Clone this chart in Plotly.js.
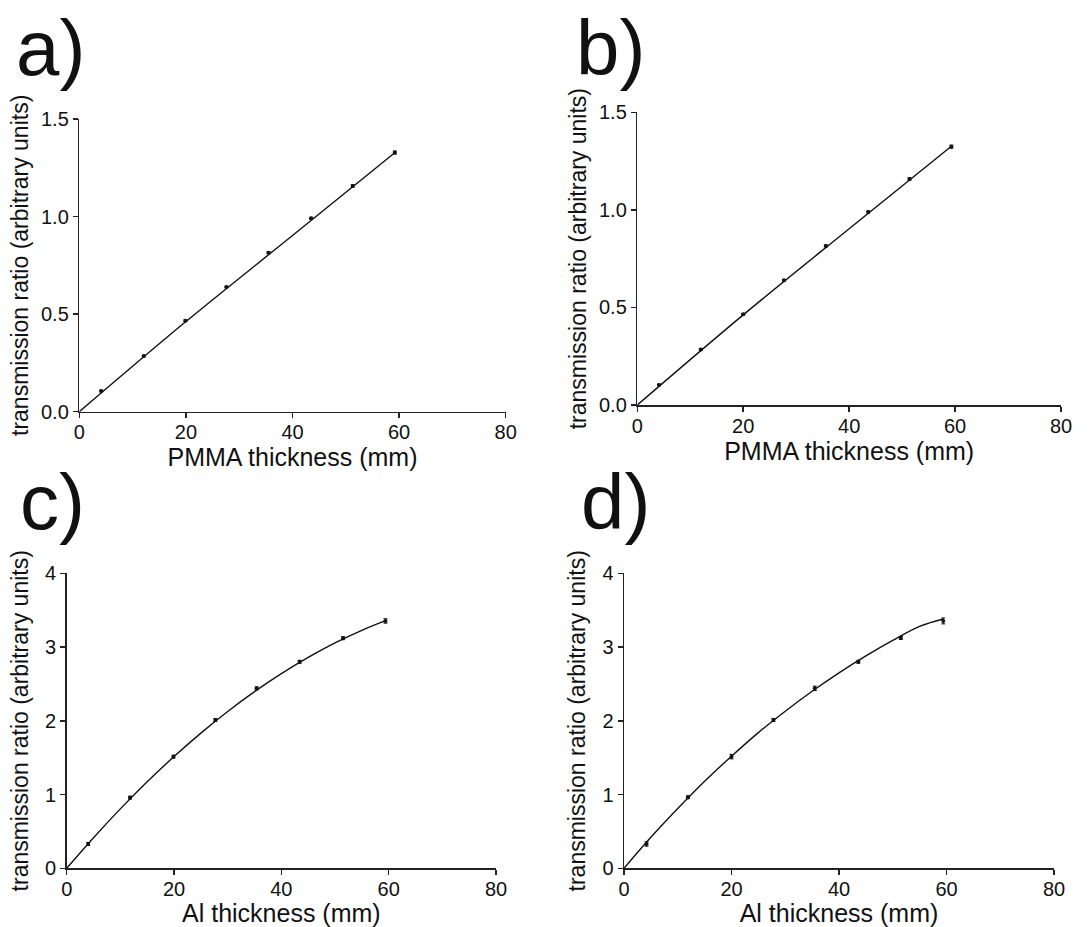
<!DOCTYPE html>
<html>
<head>
<meta charset="utf-8">
<script src="https://cdn.plot.ly/plotly-3.0.1.min.js"></script>
<style>
html,body{margin:0;padding:0;background:#fff;}
#chart{width:1091px;height:927px;}
</style>
</head>
<body>
<div id="chart"></div>
<script>
// ---- data ----
var panelLabels = ["a)", "b)", "c)", "d)"];
var xTitlePMMA = "PMMA thickness (mm)";
var xTitleAl = "Al thickness (mm)";
var yTitle = "transmission ratio (arbitrary units)";

var thickA = [4.1, 12.1, 19.9, 27.6, 35.5, 43.5, 51.3, 59.2];
var ratioA = [0.106, 0.285, 0.466, 0.639, 0.815, 0.991, 1.157, 1.328];
var errA   = [0.004, 0.004, 0.004, 0.004, 0.005, 0.005, 0.006, 0.008];
var fitXA  = [0, 20, 40, 59.3];
var fitYA  = [0, 0.462, 0.903, 1.33];

var thickB = [4.1, 12.0, 20.0, 27.7, 35.6, 43.6, 51.4, 59.3];
var ratioB = [0.103, 0.285, 0.465, 0.639, 0.815, 0.989, 1.158, 1.324];
var errB   = [0.004, 0.004, 0.004, 0.004, 0.005, 0.005, 0.006, 0.008];
var fitXB  = [0, 20, 40, 59.3];
var fitYB  = [0, 0.462, 0.903, 1.326];

var thickC = [4.0, 11.8, 19.9, 27.7, 35.4, 43.4, 51.5, 59.4];
var ratioC = [0.33, 0.958, 1.514, 2.011, 2.44, 2.80, 3.12, 3.354];
var errC   = [0.02, 0.02, 0.02, 0.02, 0.02, 0.02, 0.02, 0.03];
var fitXC  = [0, 5, 10, 15, 20, 25, 30, 35, 40, 45, 50, 55, 59.4];
var fitYC  = [0, 0.415, 0.806, 1.173, 1.515, 1.833, 2.126, 2.395, 2.639, 2.859, 3.055, 3.226, 3.357];

var thickD = [4.2, 11.9, 20.0, 27.8, 35.5, 43.6, 51.5, 59.4];
var ratioD = [0.33, 0.963, 1.514, 2.011, 2.44, 2.80, 3.123, 3.354];
var errD   = [0.03, 0.02, 0.03, 0.02, 0.03, 0.02, 0.02, 0.04];
var fitXD  = [0, 5, 10, 15, 20, 25, 30, 35, 40, 45, 50, 55, 59.4];
var fitYD  = [0, 0.42, 0.81, 1.18, 1.52, 1.84, 2.13, 2.40, 2.65, 2.88, 3.09, 3.28, 3.38];

var xTicks = [0, 20, 40, 60, 80];
var yTicksAB = [0, 0.5, 1.0, 1.5];
var yTicksCD = [0, 1, 2, 3, 4];

// ---- build ----
var FONT = "Arial, 'Liberation Sans', sans-serif";
function pts(x, y, e, xa, ya) {
  return {x: x, y: y, xaxis: xa, yaxis: ya, type: 'scatter', mode: 'markers',
    marker: {color: '#111', size: 4},
    error_y: {type: 'data', array: e, visible: true, color: '#111', thickness: 1, width: 2},
    cliponaxis: false, showlegend: false, hoverinfo: 'x+y'};
}
function fit(x, y, xa, ya) {
  return {x: x, y: y, xaxis: xa, yaxis: ya, type: 'scatter', mode: 'lines',
    line: {color: '#111', width: 1.4, shape: 'spline'}, cliponaxis: false,
    showlegend: false, hoverinfo: 'skip'};
}
var data = [
  fit(fitXA, fitYA, 'x', 'y'), pts(thickA, ratioA, errA, 'x', 'y'),
  fit(fitXB, fitYB, 'x2', 'y2'), pts(thickB, ratioB, errB, 'x2', 'y2'),
  fit(fitXC, fitYC, 'x3', 'y3'), pts(thickC, ratioC, errC, 'x3', 'y3'),
  fit(fitXD, fitYD, 'x4', 'y4'), pts(thickD, ratioD, errD, 'x4', 'y4')
];

function xax(domain, anchor, title, standoff) {
  return {domain: domain, anchor: anchor, range: [0, 80], tickvals: xTicks,
    showline: true, linecolor: '#222', linewidth: 1.5, ticks: 'outside', ticklen: 5,
    tickwidth: 1.5, tickcolor: '#222', showgrid: false, zeroline: false,
    ticklabelstandoff: -3,
    tickfont: {family: FONT, size: 20, color: '#111'},
    title: {text: title, font: {family: FONT, size: 25, color: '#111'}, standoff: standoff},
    fixedrange: true};
}
function yax(domain, anchor, range, ticks, fmt, standoff) {
  return {domain: domain, anchor: anchor, range: range, tickvals: ticks, tickformat: fmt,
    showline: true, linecolor: '#222', linewidth: 1.5, ticks: 'outside', ticklen: 5,
    tickwidth: 1.5, tickcolor: '#222', showgrid: false, zeroline: false,
    tickfont: {family: FONT, size: 20, color: '#111'},
    title: {text: yTitle, font: {family: FONT, size: 23, color: '#111'}, standoff: standoff},
    fixedrange: true};
}

var W = 1091, H = 927;
function px2x(p) { return p / W; }
function px2y(p) { return (H - p) / H; }

var layout = {
  width: W, height: H,
  margin: {l: 0, r: 0, t: 0, b: 0},
  paper_bgcolor: '#fff', plot_bgcolor: '#fff',
  font: {family: FONT, color: '#111'},
  showlegend: false,
  xaxis:  xax([px2x(79.3), px2x(505.7)], 'y', xTitlePMMA, 5),
  yaxis:  yax([px2y(411.7), px2y(119)], 'x', [0, 1.5], yTicksAB, '.1f', 6),
  xaxis2: xax([px2x(637.3), px2x(1061)], 'y2', xTitlePMMA, 5),
  yaxis2: yax([px2y(405), px2y(112.3)], 'x2', [0, 1.5], yTicksAB, '.1f', 6),
  xaxis3: xax([px2x(66.7), px2x(496)], 'y3', xTitleAl, 5),
  yaxis3: yax([px2y(868.3), px2y(573.3)], 'x3', [0, 4], yTicksCD, 'd', 10),
  xaxis4: xax([px2x(624), px2x(1054)], 'y4', xTitleAl, 5),
  yaxis4: yax([px2y(868.3), px2y(573.3)], 'x4', [0, 4], yTicksCD, 'd', 10),
  annotations: [
    {text: panelLabels[0], x: px2x(14), y: px2y(48), xref: 'paper', yref: 'paper', xanchor: 'left', yanchor: 'middle', showarrow: false, font: {family: FONT, size: 78, color: '#111'}},
    {text: panelLabels[1], x: px2x(574), y: px2y(48), xref: 'paper', yref: 'paper', xanchor: 'left', yanchor: 'middle', showarrow: false, font: {family: FONT, size: 78, color: '#111'}},
    {text: panelLabels[2], x: px2x(18), y: px2y(502), xref: 'paper', yref: 'paper', xanchor: 'left', yanchor: 'middle', showarrow: false, font: {family: FONT, size: 78, color: '#111'}},
    {text: panelLabels[3], x: px2x(579), y: px2y(502), xref: 'paper', yref: 'paper', xanchor: 'left', yanchor: 'middle', showarrow: false, font: {family: FONT, size: 78, color: '#111'}}
  ]
};

Plotly.newPlot('chart', data, layout, {displayModeBar: false, staticPlot: true});
</script>
</body>
</html>
